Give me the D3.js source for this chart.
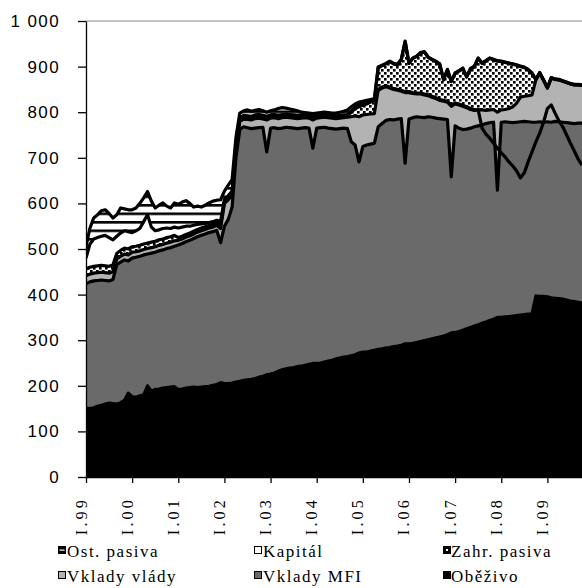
<!DOCTYPE html>
<html>
<head>
<meta charset="utf-8">
<script src="https://cdn.jsdelivr.net/npm/d3@7"></script>
<style>
  body { margin: 0; background: #fff; }
  svg { display: block; }
</style>
</head>
<body>
<div id="chart"></div>
<script>
// monthly data, I.1999 - X.2009 (bn CZK)
var tickLabels = ["I.99", "I.00", "I.01", "I.02", "I.03", "I.04", "I.05", "I.06", "I.07", "I.08", "I.09"];
var seriesNames = ["Oběživo", "Vklady MFI", "Vklady vlády", "Zahr. pasiva", "Kapitál", "Ost. pasiva"];

var obezivo = [
    151,150,152,155,157,160,162,161,160,163,168,184,
    176,175,178,180,200,188,192,193,195,196,197,198,
    192,193,195,196,197,196,197,198,199,201,203,207,
    205,205,206,208,210,212,213,214,216,219,221,224,
    226,228,232,235,237,239,240,242,243,245,247,249,
    249,250,252,254,256,259,261,263,264,266,268,272,
    274,274,276,278,280,281,283,284,286,287,289,292,
    292,293,295,297,299,301,303,305,307,309,312,316,
    317,319,322,325,328,331,334,337,340,343,346,350,
    350,351,352,353,354,355,356,357,358,397,396,396,
    395,393,392,391,390,388,386,385,383,381];

var vkladyMFI = [
    273,278,278,276,275,271,268,272,306,308,308,290,
    304,307,306,307,289,303,301,303,303,305,306,308,
    317,319,321,323,326,331,333,335,337,337,338,307,
    345,360,386,492,552,556,553,550,549,547,546,489,
    539,538,532,530,530,527,525,522,522,521,518,472,
    516,516,515,511,508,504,503,502,500,469,460,419,
    451,454,454,454,488,494,499,500,497,498,497,396,
    493,495,495,492,489,489,486,482,479,476,472,342,
    453,446,440,438,437,437,436,435,435,434,432,279,
    428,428,426,424,424,424,424,422,420,381,383,382,
    384,385,388,388,388,389,390,390,393,395];

var vkladyVlady = [
    17,17,17,17,17,17,17,17,12,13,13,13,
    13,12,12,12,12,12,12,12,12,12,12,12,
    10,10,10,10,10,10,10,10,10,10,11,31,
    50,43,26,25,18,17,18,19,21,21,18,70,
    22,22,22,23,22,22,22,22,22,22,22,62,
    22,22,22,23,23,23,23,23,25,55,64,99,
    69,67,66,65,82,80,76,71,69,65,62,157,
    60,55,52,53,52,48,46,45,42,41,40,157,
    50,53,53,49,43,38,35,33,29,28,28,171,
    27,27,30,35,42,54,55,57,60,93,107,92,
    74,97,92,92,90,88,86,85,84,83];

var zahrPasiva = [
    15,15,15,15,15,15,15,15,12,13,13,13,
    12,12,12,12,12,12,12,12,12,12,12,12,
    6,6,6,6,6,6,6,6,6,6,6,7,
    4,4,4,3,3,3,3,3,3,3,3,3,
    3,3,3,3,3,3,3,3,3,3,3,3,
    3,3,3,3,3,3,3,3,3,10,16,22,
    21,23,26,29,48,47,48,56,54,54,67,110,
    62,75,80,88,92,82,80,79,77,45,69,52,
    65,72,81,65,87,94,113,102,108,113,109,112,
    106,103,99,93,83,67,63,57,47,0,0,0,
    0,0,0,0,0,0,0,0,0,0];

var kapital = [
    24,50,60,62,64,67,63,55,38,38,38,38,
    31,34,37,49,62,33,23,22,23,21,18,18,
    21,20,18,15,13,11,9,7,6,6,5,8,
    5,5,5,5,5,5,5,5,5,5,5,5,
    4,4,4,4,4,4,4,4,4,4,4,4,
    3,3,3,3,3,3,3,3,3,3,3,3,
    2,2,2,2,-50,-49,-50,-58,-56,-56,-69,-112,
    -64,-77,-82,-90,-94,-84,-82,-81,-79,-47,-71,-54,
    -67,-74,-83,-67,-89,-96,-113,-142,-160,-175,-183,-191,
    -200,-207,-216,-223,-232,-244,-231,-202,-172,-136,-132,-92,
    -45,-59,-74,-90,-100,-115,-130,-145,-163,-175];

var ostPasiva = [
    25,35,46,50,56,56,53,48,47,55,48,48,
    50,50,55,52,51,57,50,54,56,48,45,53,
    52,55,56,50,40,40,37,40,43,45,44,48,
    18,23,25,12,10,10,13,11,10,11,10,9,
    9,10,15,15,13,12,11,10,6,4,4,7,
    5,5,5,5,5,6,7,8,10,9,7,7,
    7,6,4,2,51,50,51,59,57,57,70,113,
    65,78,83,91,95,85,83,82,80,48,72,55,
    68,75,84,68,90,97,114,143,161,176,184,192,
    201,208,217,224,233,245,232,203,173,137,133,93,
    46,60,75,91,101,116,131,146,164,176];

var seriesValues = [obezivo, vkladyMFI, vkladyVlady, zahrPasiva, kapital, ostPasiva];

var width = 582, height = 588;
var margin = { left: 86, right: 0, top: 21, bottom: 111 };

var svg = d3.select("#chart")
    .append("svg")
    .attr("width", width)
    .attr("height", height);

var defs = svg.append("defs");

// horizontal stripes (Ost. pasiva)
var stripes = defs.append("pattern")
    .attr("id", "stripes")
    .attr("patternUnits", "userSpaceOnUse")
    .attr("width", 8)
    .attr("height", 8.5);
stripes.append("rect").attr("width", 8).attr("height", 8.5).attr("fill", "#fff");
stripes.append("rect").attr("width", 8).attr("height", 2.6).attr("fill", "#000");

// dotted cross pattern (Zahr. pasiva)
var cross = defs.append("pattern")
    .attr("id", "cross")
    .attr("patternUnits", "userSpaceOnUse")
    .attr("width", 6)
    .attr("height", 6);
cross.append("rect").attr("width", 6).attr("height", 6).attr("fill", "#fff");
cross.append("rect").attr("x", 0).attr("y", 0).attr("width", 2.6).attr("height", 2.6).attr("fill", "#000");
cross.append("rect").attr("x", 3).attr("y", 3).attr("width", 2.6).attr("height", 2.6).attr("fill", "#000");

var fills = ["#000000", "#6a6a6a", "#b3b3b3", "url(#cross)", "#ffffff", "url(#stripes)"];

defs.append("clipPath")
    .attr("id", "plot-clip")
    .append("rect")
    .attr("x", margin.left)
    .attr("y", margin.top - 2)
    .attr("width", width - margin.left)
    .attr("height", height - margin.bottom - margin.top + 2);

var table = obezivo.map(function(d, i) {
    var row = { month: i };
    seriesNames.forEach(function(name, j) { row[name] = seriesValues[j][i]; });
    return row;
});

var stack = d3.stack()
    .keys(seriesNames)
    .order(d3.stackOrderNone)
    .offset(d3.stackOffsetNone);
var layers = stack(table);

var x = d3.scaleLinear()
    .domain([0, obezivo.length - 1])
    .range([margin.left, width - margin.right]);

var y = d3.scaleLinear()
    .domain([0, 1000])
    .range([height - margin.bottom, margin.top]);

var area = d3.area()
    .x(function(d) { return x(d.data.month); })
    .y0(function(d) { return y(d[0]); })
    .y1(function(d) { return y(d[1]); });

var line = d3.line()
    .x(function(d) { return x(d.data.month); })
    .y(function(d) { return y(d[1]); });

var plot = svg.append("g").attr("clip-path", "url(#plot-clip)");

// top series painted first, so the lower ones sit over them
plot.selectAll(".layer")
    .data(layers.slice().reverse())
    .enter()
    .append("path")
    .attr("class", "layer")
    .attr("d", area)
    .attr("fill", function(d) { return fills[d.index]; });

plot.selectAll(".edge")
    .data(layers)
    .enter()
    .append("path")
    .attr("class", "edge")
    .attr("d", line)
    .attr("fill", "none")
    .attr("stroke", "#000")
    .attr("stroke-width", 3.2)
    .attr("stroke-linejoin", "round");

// frame top
svg.append("line")
    .attr("x1", margin.left).attr("x2", width)
    .attr("y1", margin.top).attr("y2", margin.top)
    .attr("stroke", "#8a8a8a")
    .attr("stroke-width", 1.2);

var czFormat = d3.formatLocale({ decimal: ",", thousands: "\u00a0", grouping: [3], currency: ["", ""] }).format(",");

var yAxis = svg.append("g")
    .attr("transform", "translate(" + margin.left + ",0)")
    .call(d3.axisLeft(y)
        .tickValues(d3.range(0, 1001, 100))
        .tickSize(8)
        .tickSizeOuter(0)
        .tickPadding(18)
        .tickFormat(czFormat));
yAxis.select(".domain").attr("stroke", "#000").attr("stroke-width", 1.3);
yAxis.selectAll(".tick line").attr("stroke", "#000").attr("stroke-width", 1.3);
yAxis.selectAll(".tick text")
    .attr("font-family", "Liberation Sans, Arial, sans-serif")
    .attr("font-size", 17)
    .attr("letter-spacing", 1.4)
    .attr("fill", "#000");

var xAxis = svg.append("g")
    .attr("transform", "translate(0," + (height - margin.bottom) + ")")
    .call(d3.axisBottom(x)
        .tickValues(d3.range(0, obezivo.length, 12))
        .tickSize(6)
        .tickSizeOuter(0)
        .tickFormat(function(d, i) { return tickLabels[i]; }));
xAxis.select(".domain").attr("stroke", "#000").attr("stroke-width", 1.3);
xAxis.selectAll(".tick line").attr("stroke", "#000").attr("stroke-width", 1.3);
xAxis.selectAll(".tick text")
    .attr("transform", "rotate(-90)")
    .attr("x", -20)
    .attr("y", 0)
    .attr("dy", 0)
    .style("text-anchor", "end")
    .attr("font-family", "Liberation Serif, Times New Roman, serif")
    .attr("font-size", 16)
    .attr("letter-spacing", 3.2)
    .attr("fill", "#000");

// legend: 2 rows x 3 columns
var legendOrder = ["Ost. pasiva", "Kapitál", "Zahr. pasiva", "Vklady vlády", "Vklady MFI", "Oběživo"];
var colX = [58, 254, 443];
var rowY = [551, 576];

var legend = svg.selectAll(".legend-item")
    .data(legendOrder)
    .enter()
    .append("g")
    .attr("class", "legend-item")
    .attr("transform", function(d, i) {
        return "translate(" + colX[i % 3] + "," + rowY[Math.floor(i / 3)] + ")";
    });

legend.append("rect")
    .attr("x", 0.5)
    .attr("y", -4.5)
    .attr("width", 7)
    .attr("height", 7)
    .attr("stroke", "#000")
    .attr("stroke-width", 1)
    .attr("fill", function(d) {
        var j = seriesNames.indexOf(d);
        if (d === "Ost. pasiva" || d === "Zahr. pasiva") return "#000";
        return fills[j];
    });

legend.filter(function(d) { return d === "Ost. pasiva"; })
    .append("rect")
    .attr("x", 1.5).attr("y", -1.5).attr("width", 5).attr("height", 1.2)
    .attr("fill", "#fff");

legend.filter(function(d) { return d === "Zahr. pasiva"; })
    .append("rect")
    .attr("x", 3).attr("y", -2).attr("width", 2).attr("height", 2)
    .attr("fill", "#fff");

legend.append("text")
    .attr("x", function(d, i) { return i % 3 === 2 ? 8 : 9; })
    .attr("y", 0)
    .attr("dy", "0.33em")
    .attr("font-family", "Liberation Serif, Times New Roman, serif")
    .attr("font-size", 17)
    .attr("letter-spacing", 1.5)
    .attr("fill", "#000")
    .text(function(d) { return d; });
</script>
</body>
</html>
